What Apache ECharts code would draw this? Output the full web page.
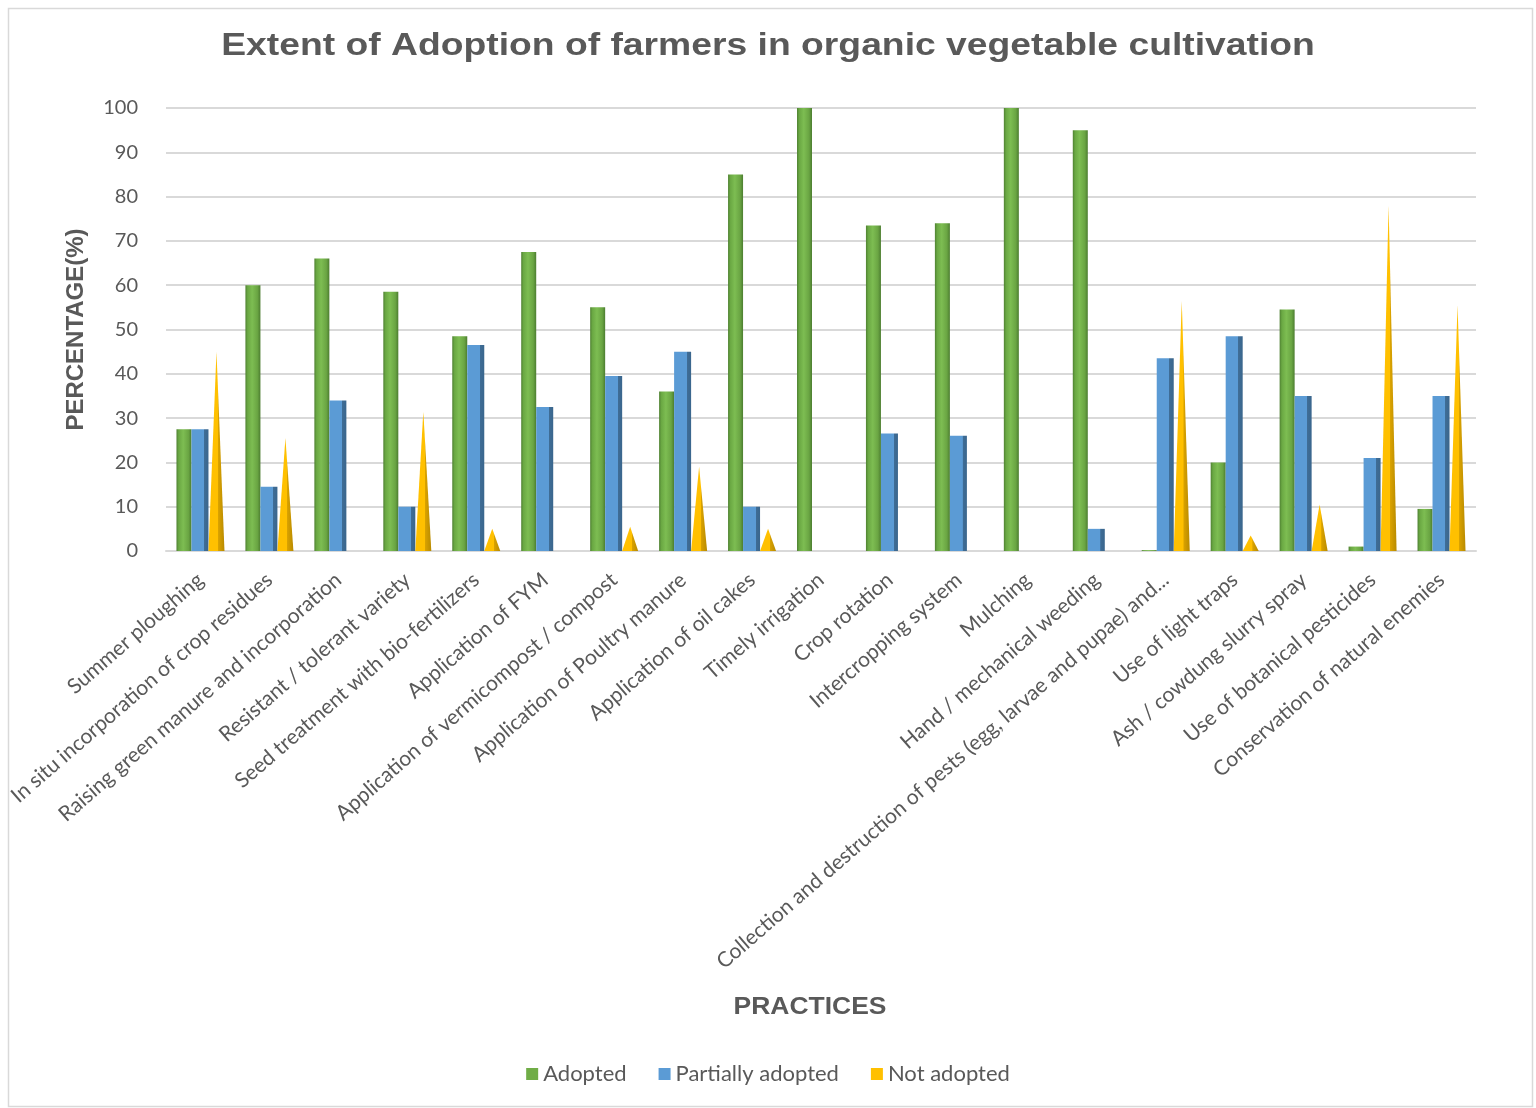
<!DOCTYPE html>
<html>
<head>
<meta charset="utf-8">
<script src="https://cdn.jsdelivr.net/npm/echarts@6/dist/echarts.min.js"></script>
<style>
html,body{margin:0;padding:0;background:#fff;}
#chart{width:1536px;height:1108px;}
</style>
</head>
<body>
<div id="chart"></div>
<script>
const categories = [
  "Summer ploughing",
  "In situ incorporation of crop residues",
  "Raising green manure and incorporation",
  "Resistant / tolerant variety",
  "Seed treatment with bio-fertilizers",
  "Application of FYM",
  "Application of vermicompost / compost",
  "Application of Poultry manure",
  "Application of oil cakes",
  "Timely irrigation",
  "Crop rotation",
  "Intercropping system",
  "Mulching",
  "Hand / mechanical weeding",
  "Collection and destruction of pests (egg, larvae and pupae) and...",
  "Use of light traps",
  "Ash / cowdung slurry spray",
  "Use of botanical pesticides",
  "Conservation of natural enemies"
];
const adopted =          [27.5, 60, 66, 58.5, 48.5, 67.5, 55, 36, 85, 100, 73.5, 74, 100, 95, 0.2, 20, 54.5, 1, 9.5];
const partiallyAdopted = [27.5, 14.5, 34, 10, 46.5, 32.5, 39.5, 45, 10, 0, 26.5, 26, 0, 5, 43.5, 48.5, 35, 21, 35];
const notAdopted =       [45, 25.5, 0, 31.5, 5, 0, 5.5, 19, 5, 0, 0, 0, 0, 0, 56.5, 3.5, 10.5, 78, 55.5];
const yTicks = [0, 10, 20, 30, 40, 50, 60, 70, 80, 90, 100];

const textColor = '#595959';
const chart = echarts.init(document.getElementById('chart'));

const greenGrad = new echarts.graphic.LinearGradient(0, 0, 1, 0, [
  {offset: 0, color: '#4f8132'}, {offset: 0.15, color: '#6aa843'},
  {offset: 0.45, color: '#7dbd52'}, {offset: 0.8, color: '#6aa543'},
  {offset: 1, color: '#4c7d30'}
]);
const blueGrad = new echarts.graphic.LinearGradient(0, 0, 1, 0, [
  {offset: 0, color: '#5b9bd5'}, {offset: 0.74, color: '#5b9bd5'},
  {offset: 0.75, color: '#3f6d96'}, {offset: 1, color: '#3a668d'}
]);
const yellowGrad = new echarts.graphic.LinearGradient(0, 0, 1, 0, [
  {offset: 0, color: '#ffc000'}, {offset: 0.6, color: '#ffc000'},
  {offset: 0.62, color: '#d9a200'}, {offset: 1, color: '#b88a00'}
]);

chart.setOption({
  animation: false,
  backgroundColor: '#fff',
  graphic: [
    {type: 'rect', left: 6, top: 6, shape: {width: 1524, height: 1098},
     style: {fill: 'none', stroke: '#d9d9d9', lineWidth: 1.5}, silent: true},
    {type: 'text', x: 768, y: 46, scaleX: 1.165, silent: true,
     style: {text: 'Extent of Adoption of farmers in organic vegetable cultivation',
       font: 'bold 32px "Liberation Sans"', fill: textColor, textAlign: 'center', textVerticalAlign: 'middle'}},
    {type: 'text', x: 810, y: 1008, scaleX: 1.15, silent: true,
     style: {text: 'PRACTICES', font: 'bold 23px "Liberation Sans"', fill: textColor,
       textAlign: 'center', textVerticalAlign: 'middle'}}
  ],
  legend: {
    bottom: 18, left: 'center', itemGap: 32, itemWidth: 12, itemHeight: 12, icon: 'rect',
    textStyle: {fontFamily: 'Lato', fontSize: 22, color: textColor},
    data: [
      {name: 'Adopted', itemStyle: {color: '#70ad47'}},
      {name: 'Partially adopted', itemStyle: {color: '#5b9bd5'}},
      {name: 'Not adopted', itemStyle: {color: '#ffc000'}}
    ]
  },
  grid: {left: 166, right: 60, top: 108, bottom: 557, containLabel: false},
  xAxis: {
    type: 'category', data: categories,
    axisLine: {show: true, lineStyle: {color: '#d9d9d9', width: 2}},
    axisTick: {show: false},
    axisLabel: {rotate: 41, interval: 0, margin: 26, fontFamily: 'Lato', fontSize: 21, color: textColor}
  },
  yAxis: {
    type: 'value', min: 0, max: 100, interval: 10,
    name: 'PERCENTAGE(%)', nameLocation: 'middle', nameGap: 78, nameRotate: 90,
    nameTextStyle: {fontFamily: 'Liberation Sans', fontWeight: 'bold', fontSize: 24, color: textColor},
    axisLine: {show: false}, axisTick: {show: false},
    axisLabel: {margin: 28, fontFamily: 'Lato', fontSize: 20, color: textColor,
      formatter: v => yTicks.includes(v) ? String(v) : ''},
    splitLine: {lineStyle: {color: '#d9d9d9', width: 2}}
  },
  series: [
    {name: 'Adopted', type: 'pictorialBar', data: adopted, symbol: 'rect',
     symbolSize: ['100%', '100%'], barWidth: 15, barGap: '0%', barCategoryGap: '36%',
     itemStyle: {color: greenGrad}},
    {name: 'Partially adopted', type: 'pictorialBar', data: partiallyAdopted, symbol: 'rect',
     symbolSize: ['100%', '100%'], barWidth: 17, barGap: '0%',
     itemStyle: {color: blueGrad}},
    {name: 'Not adopted', type: 'pictorialBar', data: notAdopted, symbol: 'triangle',
     symbolSize: ['100%', '100%'], barWidth: 16, barGap: '0%',
     itemStyle: {color: yellowGrad}}
  ]
});
</script>
</body>
</html>
